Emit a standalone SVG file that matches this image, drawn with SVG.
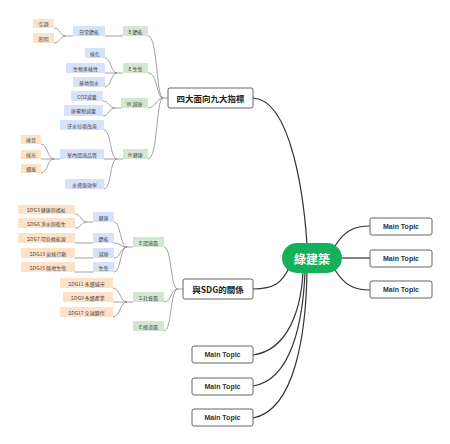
<svg xmlns="http://www.w3.org/2000/svg" width="450" height="444" viewBox="0 0 450 444">
<style>
.g{fill:#d3e6d1}.b{fill:#d6e2f8}.o{fill:#fce2c9}
.t{font-family:"Noto Sans CJK TC","Liberation Sans",sans-serif;font-size:5px;fill:#444;text-anchor:middle;dominant-baseline:central}
.mt{fill:#fff;stroke:#555;stroke-width:0.9}
.mtt{font-family:"Liberation Sans","Noto Sans CJK TC",sans-serif;font-size:7px;font-weight:bold;fill:#333;text-anchor:middle;dominant-baseline:central}
.bt{font-family:"Noto Sans CJK TC","Liberation Sans",sans-serif;font-size:8.5px;font-weight:bold;fill:#222;text-anchor:middle;dominant-baseline:central}
.dk{fill:none;stroke:#333;stroke-width:1.2}
.gr{fill:none;stroke:#7a7a7a;stroke-width:0.7}
</style>
<rect width="450" height="444" fill="#fff"/>
<g id="connectors">
<path class="dk" d="M253,98 C292,100 304,200 307,244"/>
<path class="dk" d="M253,289 C275,289 282,282 289,268"/>
<path class="dk" d="M253,355 C288,350 301,310 303,272"/>
<path class="dk" d="M253,386 C292,380 303,320 305,272"/>
<path class="dk" d="M253,418 C296,410 306,330 307,272"/>
<path class="dk" d="M335,246 C345,230 355,226 370,226"/>
<path class="dk" d="M342,258 L370,258"/>
<path class="dk" d="M335,270 C345,286 355,290 370,290"/>
<path class="gr" d="M168,98 L163,98 M163,98 C156,98 158,36 148,36 M163,98 C156,98 158,73 148,73 M163,98 C156,98 156,108 148,108 M163,98 C156,98 158,159 148,159"/>
<path class="gr" d="M123,36 L105,36 M73,36 L66,36 M66,36 C60,36 60,28 54,28 M66,36 C60,36 60,43 54,43"/>
<path class="gr" d="M123,73 L117,73 M117,73 C111,73 111,58 105,58 M117,73 L105,73 M117,73 C111,73 111,87 105,87"/>
<path class="gr" d="M121,108 L115,108 M115,108 C109,108 109,101 103,101 M115,108 C109,108 109,116 103,116"/>
<path class="gr" d="M123,159 L117,159 M117,159 C110,159 111,130 104,130 M117,159 L104,159 M117,159 C110,159 111,189 104,189"/>
<path class="gr" d="M60,159 L54,159 M54,159 C47,159 48,144 41,144 M54,159 L41,159 M54,159 C47,159 48,173 41,173"/>
<path class="gr" d="M183,289 L178,289 M178,289 C170,289 172,247 164,247 M178,289 C170,289 172,302 164,302 M178,289 C170,289 172,331 164,331"/>
<path class="gr" d="M133,247 L127,247 M127,247 C120,247 121,222 114,222 M127,247 C120,247 121,243 114,243 M127,247 C120,247 121,258 114,258 M127,247 C120,247 121,272 114,272"/>
<path class="gr" d="M93,222 L87,222 M87,222 C81,222 81,214 75,214 M87,222 C81,222 81,228 75,228 M93,243 L75,243 M93,258 L75,258 M93,272 L75,272"/>
<path class="gr" d="M133,302 L127,302 M127,302 C120,302 120,288 113,288 M127,302 L113,302 M127,302 C120,302 120,317 113,317"/>
</g>
<g id="center"><rect x="282" y="243" width="60" height="30" rx="15" fill="#15b05a"/><text x="312" y="258" font-family="'Noto Sans CJK TC',sans-serif" font-size="12" font-weight="bold" fill="#fff" text-anchor="middle" dominant-baseline="central">綠建築</text></g>
<g id="main1"><rect class="mt" x="168" y="88" width="85" height="20" rx="2"/><text class="bt" x="210.5" y="98">四大面向九大指標</text></g>
<g id="main2"><rect class="mt" x="183" y="279" width="70" height="20" rx="2"/><text class="bt" x="218" y="289">與SDG的關係</text></g>
<g id="mt1"><rect class="mt" x="370" y="218" width="62" height="17" rx="2"/><text class="mtt" x="401" y="226.5">Main Topic</text></g>
<g id="mt2"><rect class="mt" x="370" y="250" width="62" height="17" rx="2"/><text class="mtt" x="401" y="258.5">Main Topic</text></g>
<g id="mt3"><rect class="mt" x="370" y="281" width="62" height="17" rx="2"/><text class="mtt" x="401" y="289.5">Main Topic</text></g>
<g id="mt4"><rect class="mt" x="192" y="346" width="61" height="17" rx="2"/><text class="mtt" x="222.5" y="354.5">Main Topic</text></g>
<g id="mt5"><rect class="mt" x="192" y="378" width="61" height="17" rx="2"/><text class="mtt" x="222.5" y="386.5">Main Topic</text></g>
<g id="mt6"><rect class="mt" x="192" y="409" width="61" height="17" rx="2"/><text class="mtt" x="222.5" y="417.5">Main Topic</text></g>
<g id="e-energy"><rect class="g" x="123" y="26" width="25" height="10"/><text class="t" x="135.5" y="31">E 節能</text></g>
<g id="daily"><rect class="b" x="73" y="26" width="32" height="10"/><text class="t" x="89" y="31">日常節能</text></g>
<g id="ac"><rect class="o" x="33" y="19" width="21" height="9"/><text class="t" x="43.5" y="23.5">空調</text></g>
<g id="light"><rect class="o" x="33" y="33" width="21" height="10"/><text class="t" x="43.5" y="38">照明</text></g>
<g id="e-eco"><rect class="g" x="123" y="63" width="25" height="10"/><text class="t" x="135.5" y="68">E 生態</text></g>
<g id="green"><rect class="b" x="85" y="48" width="20" height="10"/><text class="t" x="95" y="53">綠化</text></g>
<g id="bio"><rect class="b" x="66" y="63" width="39" height="10"/><text class="t" x="85.5" y="68">生物多樣性</text></g>
<g id="water-keep"><rect class="b" x="73" y="77" width="32" height="10"/><text class="t" x="89" y="82">基地保水</text></g>
<g id="w-waste"><rect class="g" x="121" y="98" width="27" height="10"/><text class="t" x="134.5" y="103">W 減廢</text></g>
<g id="co2"><rect class="b" x="71" y="91" width="32" height="10"/><text class="t" x="87" y="96">CO2減量</text></g>
<g id="waste"><rect class="b" x="64" y="105" width="39" height="11"/><text class="t" x="83.5" y="110.5">廢棄物減量</text></g>
<g id="h-health"><rect class="g" x="123" y="149" width="25" height="10"/><text class="t" x="135.5" y="154">H 健康</text></g>
<g id="sewage"><rect class="b" x="60" y="120" width="44" height="10"/><text class="t" x="82" y="125">汙水垃圾改善</text></g>
<g id="indoor"><rect class="b" x="60" y="149" width="44" height="10"/><text class="t" x="82" y="154">室內環境品質</text></g>
<g id="water-eff"><rect class="b" x="65" y="179" width="39" height="10"/><text class="t" x="84.5" y="184">水資源效率</text></g>
<g id="noise"><rect class="o" x="21" y="135" width="20" height="9"/><text class="t" x="31" y="139.5">噪音</text></g>
<g id="daylight"><rect class="o" x="21" y="150" width="20" height="9"/><text class="t" x="31" y="154.5">採光</text></g>
<g id="vent"><rect class="o" x="21" y="164" width="20" height="9"/><text class="t" x="31" y="168.5">通風</text></g>
<g id="e-env"><rect class="g" x="133" y="237" width="31" height="10"/><text class="t" x="148.5" y="242">E 環境面</text></g>
<g id="s-soc"><rect class="g" x="133" y="292" width="31" height="10"/><text class="t" x="148.5" y="297">S 社會面</text></g>
<g id="e-econ"><rect class="g" x="133" y="321" width="31" height="10"/><text class="t" x="148.5" y="326">E 經濟面</text></g>
<g id="s-health"><rect class="b" x="93" y="212" width="21" height="10"/><text class="t" x="103.5" y="217">健康</text></g>
<g id="s-energy"><rect class="b" x="93" y="233" width="21" height="10"/><text class="t" x="103.5" y="238">節能</text></g>
<g id="s-waste"><rect class="b" x="93" y="248" width="21" height="10"/><text class="t" x="103.5" y="253">減廢</text></g>
<g id="s-eco"><rect class="b" x="93" y="262" width="21" height="10"/><text class="t" x="103.5" y="267">生態</text></g>
<g id="sdg3"><rect class="o" x="18" y="205" width="57" height="9"/><text class="t" x="46.5" y="209.5">SDG3 健康與福祉</text></g>
<g id="sdg6"><rect class="o" x="18" y="218" width="57" height="10"/><text class="t" x="46.5" y="223">SDG6 淨水與衛生</text></g>
<g id="sdg7"><rect class="o" x="18" y="233" width="57" height="10"/><text class="t" x="46.5" y="238">SDG7 可負擔能源</text></g>
<g id="sdg13"><rect class="o" x="21" y="248" width="54" height="10"/><text class="t" x="48" y="253">SDG13 氣候行動</text></g>
<g id="sdg15"><rect class="o" x="21" y="262" width="54" height="10"/><text class="t" x="48" y="267">SDG15 陸地生態</text></g>
<g id="sdg11"><rect class="o" x="60" y="278" width="53" height="10"/><text class="t" x="86.5" y="283">SDG11 永續城市</text></g>
<g id="sdg9"><rect class="o" x="63" y="292" width="50" height="10"/><text class="t" x="88" y="297">SDG9 永續產業</text></g>
<g id="sdg17"><rect class="o" x="60" y="307" width="53" height="10"/><text class="t" x="86.5" y="312">SDG17 全球夥伴</text></g>
</svg>
